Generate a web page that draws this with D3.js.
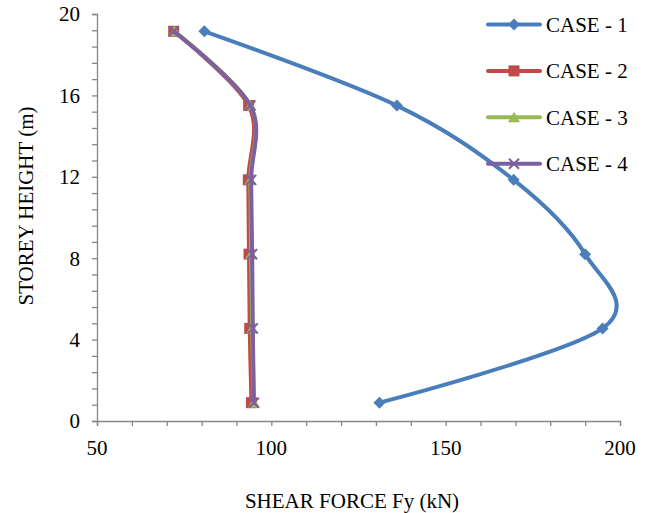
<!DOCTYPE html>
<html>
<head>
<meta charset="utf-8">
<script src="https://cdn.jsdelivr.net/npm/d3@7"></script>
<style>
  body { margin: 0; background: #fff; }
  svg, svg text { font-family: "Times New Roman", "Liberation Serif", serif; }
</style>
</head>
<body>
<svg id="chart" width="651" height="513"></svg>
<script>
// Data
var heights = [0.9, 4.55, 8.2, 11.85, 15.5, 19.15];
var case1 = [131, 195, 190, 169.5, 136, 80.8];
var case2 = [94.3, 93.8, 93.6, 93.4, 93.5, 72];
var case3 = [95, 94.5, 94.2, 94, 94, 72.2];
var case4 = [95, 94.7, 94.5, 94.2, 94, 72];
var caseNames = ["CASE - 1", "CASE - 2", "CASE - 3", "CASE - 4"];
var xTicks = [50, 100, 150, 200];
var yTicks = [0, 4, 8, 12, 16, 20];

var width = 651, height = 513;
var fontFam = "Times New Roman";
var svg = d3.select("#chart");

var margin = {left: 97, top: 14, right: 31, bottom: 92};

var x = d3.scaleLinear().domain([50, 200]).range([margin.left, width - margin.right]);
var y = d3.scaleLinear().domain([0, 20]).range([height - margin.bottom, margin.top]);

var axisColor = "#868686";

// x axis
var xAxis = svg.append("g")
    .attr("transform", "translate(0," + y(0) + ")")
    .call(d3.axisBottom(x).tickValues(d3.range(50, 201, 10)).tickSize(5).tickFormat(""));
xAxis.append("g").selectAll("text")
    .data(xTicks).join("text")
    .attr("x", d => x(d)).attr("y", 34)
    .attr("text-anchor", "middle")
    .attr("font-family", fontFam)
    .attr("font-size", 21)
    .attr("fill", "#000")
    .text(d => d);

// y axis
var yAxis = svg.append("g")
    .attr("transform", "translate(" + x(50) + ",0)")
    .call(d3.axisLeft(y).tickValues(d3.range(0, 20.01, 0.8)).tickSize(5).tickFormat(""));
yAxis.append("g").selectAll("text")
    .data(yTicks).join("text")
    .attr("x", -17).attr("y", d => y(d))
    .attr("dy", "0.35em")
    .attr("text-anchor", "end")
    .attr("font-family", fontFam)
    .attr("font-size", 21)
    .attr("fill", "#000")
    .text(d => d);

svg.selectAll(".domain").attr("stroke", axisColor).attr("stroke-width", 1.3);
svg.selectAll(".tick line").attr("stroke", axisColor).attr("stroke-width", 1.3);

// axis titles
svg.append("text")
    .attr("x", 352).attr("y", 508)
    .attr("text-anchor", "middle")
    .attr("font-family", fontFam)
    .attr("font-size", 21)
    .text("SHEAR FORCE Fy (kN)");

svg.append("text")
    .attr("transform", "translate(33,206) rotate(-90)")
    .attr("text-anchor", "middle")
    .attr("font-family", fontFam)
    .attr("font-size", 21)
    .text("STOREY HEIGHT (m)");

var series = [
  {name: caseNames[0], vals: case1, color: "#4A7EBB", marker: "diamond"},
  {name: caseNames[1], vals: case2, color: "#BE4B48", marker: "square"},
  {name: caseNames[2], vals: case3, color: "#98B954", marker: "triangle"},
  {name: caseNames[3], vals: case4, color: "#7D60A0", marker: "cross"}
];

var line = d3.line()
    .x(d => x(d[0]))
    .y(d => y(d[1]))
    .curve(d3.curveCardinal.tension(0));

function drawMarker(g, type, color) {
  if (type === "diamond") {
    g.append("path").attr("d", "M0,-6L6,0L0,6L-6,0Z").attr("fill", color);
  } else if (type === "square") {
    g.append("rect").attr("x", -5.5).attr("y", -5.5).attr("width", 11).attr("height", 11).attr("fill", color);
  } else if (type === "triangle") {
    g.append("path").attr("d", "M0,-5.5L6,5L-6,5Z").attr("fill", color);
  } else {
    g.append("path").attr("d", "M-5,-5L5,5M5,-5L-5,5")
      .attr("stroke", color).attr("stroke-width", 2).attr("fill", "none");
  }
}

series.forEach(function(s) {
  var pts = s.vals.map((v, i) => [v, heights[i]]);
  svg.append("path")
      .datum(pts)
      .attr("d", line)
      .attr("fill", "none")
      .attr("stroke", s.color)
      .attr("stroke-width", 4)
      .attr("stroke-linecap", "round");
  pts.forEach(function(p) {
    var g = svg.append("g").attr("transform", "translate(" + x(p[0]) + "," + y(p[1]) + ")");
    drawMarker(g, s.marker, s.color);
  });
});

// legend
var legend = svg.append("g");
series.forEach(function(s, i) {
  var ly = 24.5 + i * 46.4;
  legend.append("line")
      .attr("x1", 488).attr("x2", 540).attr("y1", ly).attr("y2", ly)
      .attr("stroke", s.color).attr("stroke-width", 4).attr("stroke-linecap", "round");
  drawMarker(legend.append("g").attr("transform", "translate(514," + ly + ")"), s.marker, s.color);
  legend.append("text")
      .attr("x", 546).attr("y", ly).attr("dy", "0.35em")
      .attr("font-family", fontFam)
      .attr("font-size", 21)
      .text(s.name);
});
</script>
</body>
</html>
